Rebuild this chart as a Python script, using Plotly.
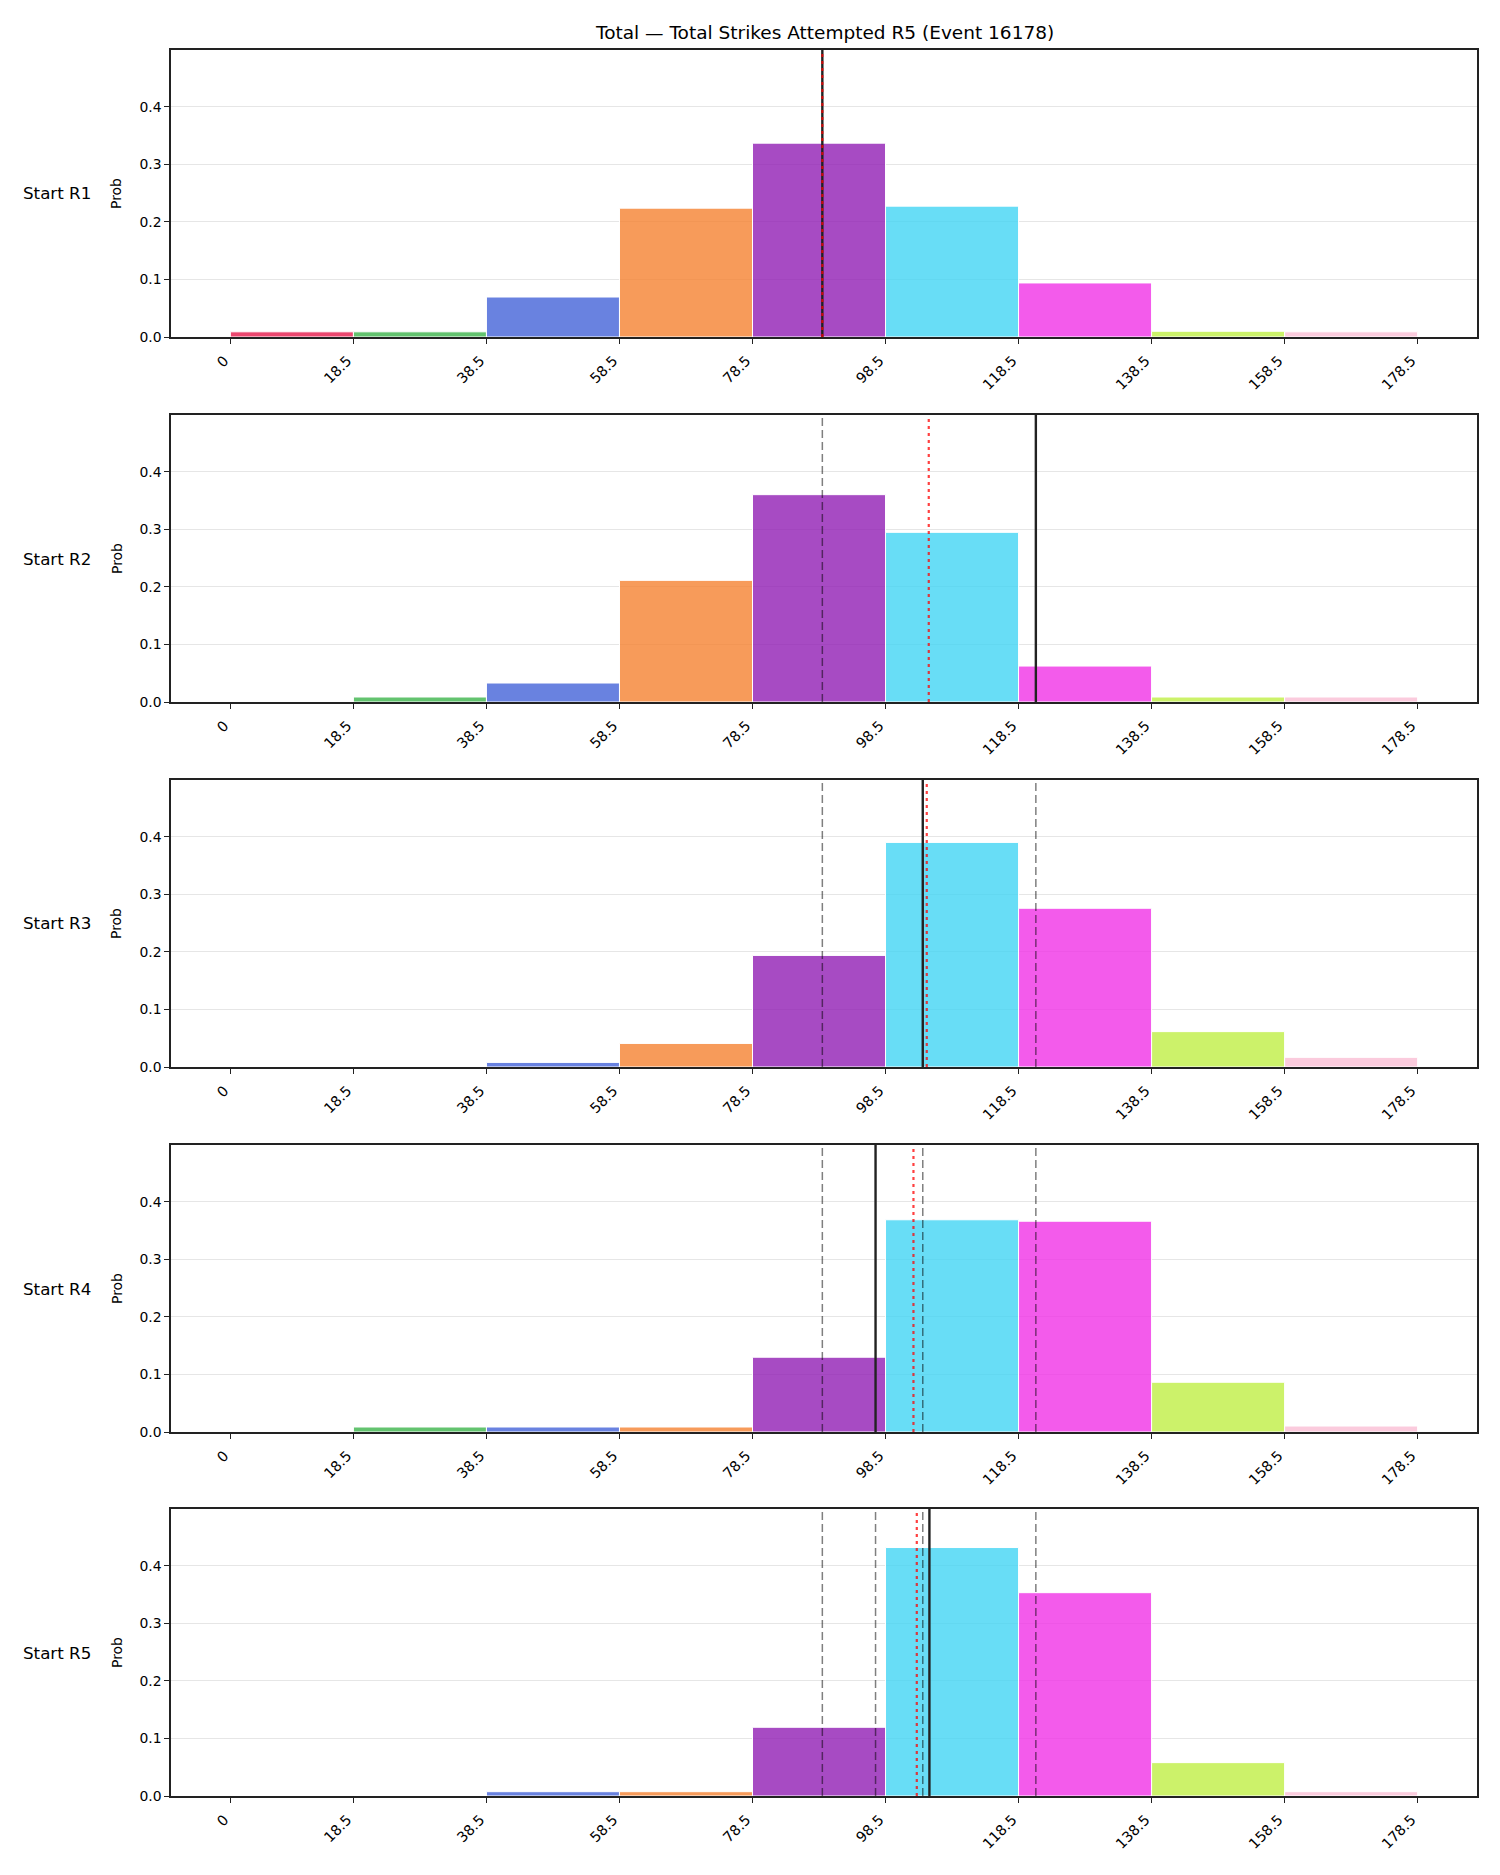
import plotly.graph_objects as go

# ---------------- data ----------------
title_text = "Total — Total Strikes Attempted R5 (Event 16178)"
row_labels = ["Start R1", "Start R2", "Start R3", "Start R4", "Start R5"]
bin_edges = [0, 18.5, 38.5, 58.5, 78.5, 98.5, 118.5, 138.5, 158.5, 178.5]
tick_labels = ["0", "18.5", "38.5", "58.5", "78.5", "98.5", "118.5", "138.5", "158.5", "178.5"]
y_tick_vals = [0.0, 0.1, 0.2, 0.3, 0.4]
y_tick_labels = ["0.0", "0.1", "0.2", "0.3", "0.4"]

prob_r1 = [0.009, 0.009, 0.0695, 0.224, 0.337, 0.2275, 0.094, 0.010, 0.009]
prob_r2 = [0.0, 0.0087, 0.033, 0.2115, 0.3605, 0.295, 0.0625, 0.0087, 0.0087]
prob_r3 = [0.0, 0.0, 0.008, 0.041, 0.194, 0.3905, 0.276, 0.0615, 0.0168]
prob_r4 = [0.0, 0.0087, 0.0087, 0.0087, 0.130, 0.369, 0.3665, 0.0865, 0.0104]
prob_r5 = [0.0, 0.0, 0.0075, 0.0075, 0.1195, 0.432, 0.3535, 0.058, 0.0075]

actual_values = [89.0, 121.1, 104.1, 97.0, 105.1]     # solid black line per row
expected_values = [89.0, 105.0, 104.7, 102.7, 103.2]  # red dotted line per row

# ---------------- style ----------------
bar_colors = ["#e6194b", "#3cb44b", "#4363d8", "#f58231", "#911eb4",
              "#42d4f4", "#f032e6", "#bfef45", "#fabed4"]
FONT = "DejaVu Sans"
W, H = 1500, 1875
plot_left, plot_right = 171, 1477
plot_tops = [50, 415, 780, 1145, 1509]
plot_h = 287


def rgba(hex_color, a):
    h = hex_color.lstrip("#")
    r, g, b = int(h[0:2], 16), int(h[2:4], 16), int(h[4:6], 16)
    return f"rgba({r},{g},{b},{a})"


all_probs = [prob_r1, prob_r2, prob_r3, prob_r4, prob_r5]
centers = [(bin_edges[k] + bin_edges[k + 1]) / 2 for k in range(len(bin_edges) - 1)]
widths = [bin_edges[k + 1] - bin_edges[k] for k in range(len(bin_edges) - 1)]

fig = go.Figure()
layout = dict(
    template="none",
    width=W, height=H,
    margin=dict(l=0, r=0, t=0, b=0, autoexpand=False),
    paper_bgcolor="white", plot_bgcolor="white",
    showlegend=False,
    font=dict(family=FONT, color="black"),
)
shapes = []
annotations = []

xmin = bin_edges[0] - 0.05 * (bin_edges[-1] - bin_edges[0])
xmax = bin_edges[-1] + 0.05 * (bin_edges[-1] - bin_edges[0])

for i, probs in enumerate(all_probs):
    n = i + 1
    xa = "x" if n == 1 else f"x{n}"
    ya = "y" if n == 1 else f"y{n}"
    fig.add_trace(go.Bar(
        x=centers, y=probs, width=widths,
        marker=dict(color=[rgba(c, 0.8) for c in bar_colors],
                    line=dict(color="white", width=1)),
        xaxis=xa, yaxis=ya, hoverinfo="skip",
    ))
    top = plot_tops[i]
    bottom = top + plot_h
    ydom = [1 - bottom / H, 1 - top / H]
    xdom = [plot_left / W, plot_right / W]
    axis_common = dict(
        showline=True, mirror=True, linecolor="#222222", linewidth=1.5,
        ticks="outside", ticklen=5, tickwidth=1.2, tickcolor="#222222",
        zeroline=False, automargin=False,
    )
    layout["xaxis" if n == 1 else f"xaxis{n}"] = dict(
        domain=xdom, anchor=ya, range=[xmin, xmax],
        tickmode="array", tickvals=bin_edges, ticktext=tick_labels,
        tickangle=-45, ticklabelshift=-6, ticklabelstandoff=3, showgrid=False,
        tickfont=dict(family=FONT, size=14.3, color="black"),
        **axis_common,
    )
    layout["yaxis" if n == 1 else f"yaxis{n}"] = dict(
        domain=ydom, anchor=xa, range=[0, 0.499],
        tickmode="array", tickvals=y_tick_vals, ticktext=y_tick_labels,
        showgrid=True, gridcolor="#e6e6e6", gridwidth=1,
        tickfont=dict(family=FONT, size=13.9, color="black"),
        **axis_common,
    )
    # previous rounds: dashed grey
    for j in range(i):
        shapes.append(dict(type="line", xref=xa, yref=f"{ya} domain",
                           x0=actual_values[j], x1=actual_values[j], y0=0, y1=1,
                           line=dict(color="rgba(0,0,0,0.5)", width=1.5, dash="8px,4px")))
    # actual: solid black
    shapes.append(dict(type="line", xref=xa, yref=f"{ya} domain",
                       x0=actual_values[i], x1=actual_values[i], y0=0, y1=1,
                       line=dict(color="#222222", width=2.4)))
    # expected: red dotted
    shapes.append(dict(type="line", xref=xa, yref=f"{ya} domain",
                       x0=expected_values[i], x1=expected_values[i], y0=0, y1=1,
                       line=dict(color="rgba(255,0,0,0.75)", width=2.2, dash="3px,4px")))
    yc = 1 - (top + plot_h / 2) / H
    annotations.append(dict(text=row_labels[i], xref="paper", yref="paper",
                            x=56.5 / W, y=yc, xanchor="center", yanchor="middle",
                            showarrow=False, font=dict(family=FONT, size=16.7, color="black")))
    annotations.append(dict(text="Prob", xref="paper", yref="paper",
                            x=116.5 / W, y=yc, xanchor="center", yanchor="middle",
                            textangle=-90, showarrow=False,
                            font=dict(family=FONT, size=13.9, color="black")))

annotations.append(dict(text=title_text, xref="paper", yref="paper",
                        x=(plot_left + plot_right) / 2 / W, y=1 - 32 / H,
                        xanchor="center", yanchor="middle", showarrow=False,
                        font=dict(family=FONT, size=18.5, color="black")))

layout["shapes"] = shapes
layout["annotations"] = annotations
fig.update_layout(**layout)
fig.write_html("out.html")
